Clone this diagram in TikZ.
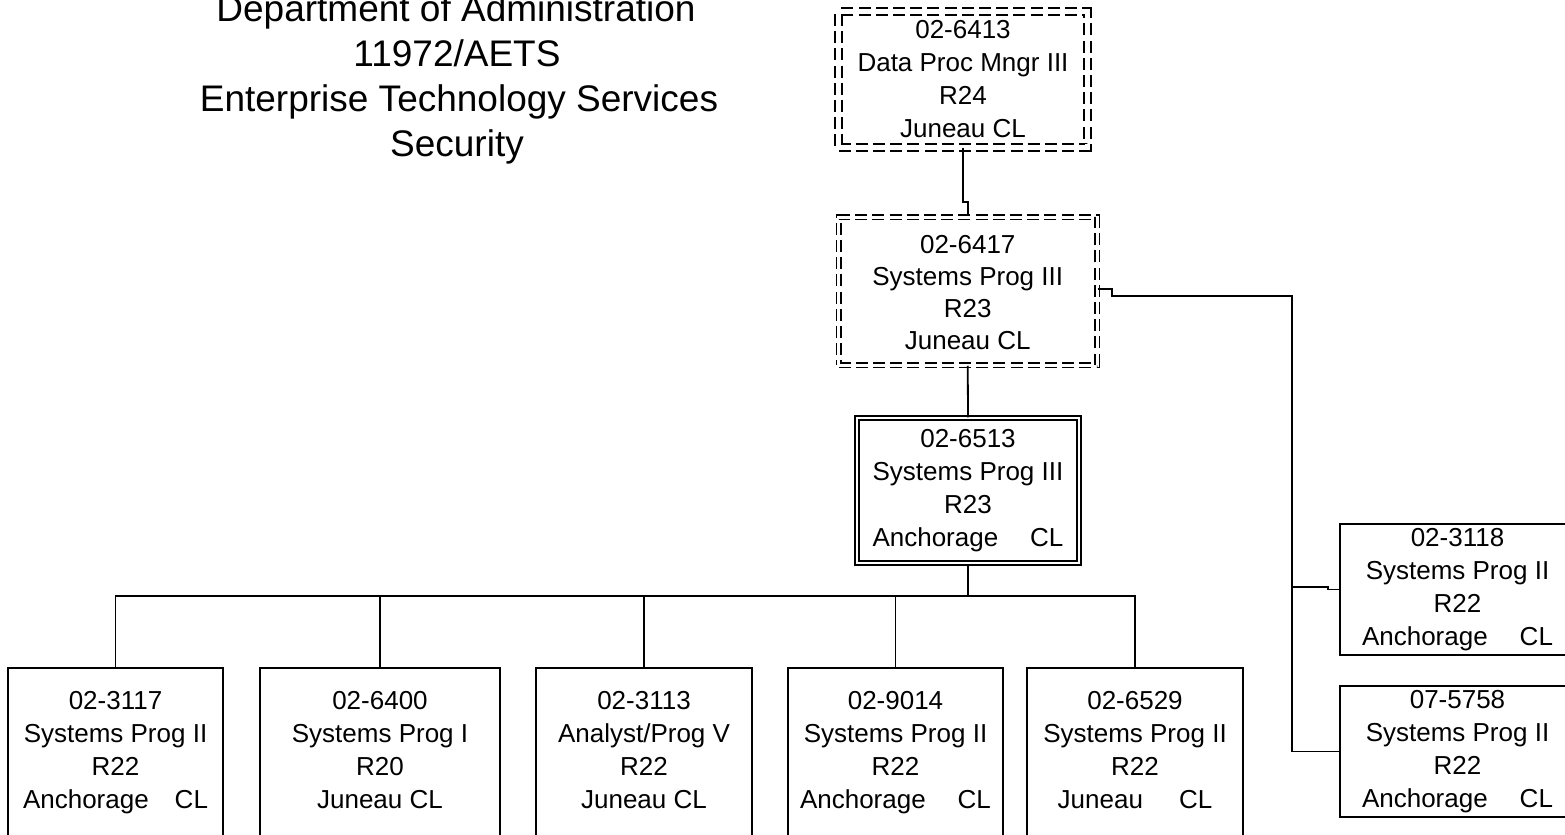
\documentclass[tikz,border=0pt]{standalone}
\usepackage{fontspec}
\setmainfont{Liberation Sans}
\newcommand{\ph}{\vphantom{Ag}}
\begin{document}
\begin{tikzpicture}[x=0.5pt,y=-0.5pt,
  boxtext/.style={align=center,inner sep=0pt,font=\fontsize{13pt}{16.5pt}\selectfont},
  plainbox/.style={boxtext,draw,line width=0.9pt},
  dashbox/.style={boxtext,draw,line width=0.75pt,double,dash pattern=on 6pt off 2.6pt},
  dblbox/.style={boxtext,draw,line width=0.75pt,double,double distance=1.2pt},
  title/.style={anchor=base,inner sep=0pt,font=\fontsize{18.5pt}{22.5pt}\selectfont},
  conn/.style={line width=0.9pt}]
\useasboundingbox (0,0) rectangle (1565,835);
\clip (0,0) rectangle (1565,835);
% title
\node[title] (ti1) at (456,21) {Department of Administration};
\node[title] (ti2) at (457,66) {11972/AETS};
\node[title] (ti3) at (459,111) {Enterprise Technology Services};
\node[title] (ti4) at (457,156) {Security};
% upper boxes
\node[dashbox,double distance=2.6pt,minimum width=124.5pt,minimum height=68pt] (t) at (963,79.5)
  {\rule{0pt}{11.3pt}02-6413\\Data Proc Mngr III\\R24\\Juneau CL\ph};
\node[dashbox,double distance=1.5pt,minimum width=129.25pt,minimum height=74pt,
  font=\fontsize{13pt}{16pt}\selectfont] (b2) at (967.75,291)
  {\rule{0pt}{13.3pt}02-6417\\Systems Prog III\\R23\\Juneau CL\ph};
\node[dblbox,minimum width=111pt,minimum height=72.5pt] (b3) at (968,490.5)
  {\ph02-6513\\Systems Prog III\\R23\\Anchorage\hspace{16pt}CL\ph};
% bottom row
\node[plainbox,minimum width=107.5pt,minimum height=84.5pt] (c1) at (115.5,752.5)
  {\ph02-3117\\Systems Prog II\\R22\\Anchorage\hspace{13pt}CL\ph};
\node[plainbox,minimum width=120pt,minimum height=84.5pt] (c2) at (380,752.5)
  {\ph02-6400\\Systems Prog I\\R20\\Juneau CL\ph};
\node[plainbox,minimum width=108pt,minimum height=84.5pt] (c3) at (644,752.5)
  {\ph02-3113\\Analyst/Prog V\\R22\\Juneau CL\ph};
\node[plainbox,minimum width=107.5pt,minimum height=84.5pt] (c4) at (895.5,752.5)
  {\ph02-9014\\Systems Prog II\\R22\\Anchorage\hspace{16pt}CL\ph};
\node[plainbox,minimum width=108pt,minimum height=84.5pt] (c5) at (1135,752.5)
  {\ph02-6529\\Systems Prog II\\R22\\Juneau\hspace{18pt}CL\ph};
% right column
\node[plainbox,minimum width=117.5pt,minimum height=65.5pt] (r1) at (1457.5,589.5)
  {\ph02-3118\\Systems Prog II\\R22\\Anchorage\hspace{16pt}CL\ph};
\node[plainbox,minimum width=117.5pt,minimum height=65.5pt] (r2) at (1457.5,751.5)
  {\ph07-5758\\Systems Prog II\\R22\\Anchorage\hspace{16pt}CL\ph};
% helper coordinates
\coordinate (j1) at (0,202);
\coordinate (k1) at (1112,289);
\coordinate (k2) at (1292,296);
\coordinate (k3) at (1328,587);
\coordinate (bus) at (0,596);
% connectors
\draw[conn] (t.south) -- (t.south |- j1) -- (b2.north |- j1) -- (b2.north);
\draw[conn] (b2.south) -- (b3.north);
\draw[conn] (b3.south) -- (b3.south |- bus);
\draw[conn] (c1.north) -- (c1.north |- bus) -- (c5.north |- bus) -- (c5.north);
\draw[conn] (c2.north) -- (c2.north |- bus);
\draw[conn] (c3.north) -- (c3.north |- bus);
\draw[conn] (c4.north) -- (c4.north |- bus);
\draw[conn] (b2.east |- k1) -- (k1) -- (k1 |- k2) -- (k2) -- (k2 |- r2.west) -- (r2.west);
\draw[conn] (k2 |- k3) -- (k3) -- (k3 |- r1.west) -- (r1.west);
\end{tikzpicture}
\end{document}
